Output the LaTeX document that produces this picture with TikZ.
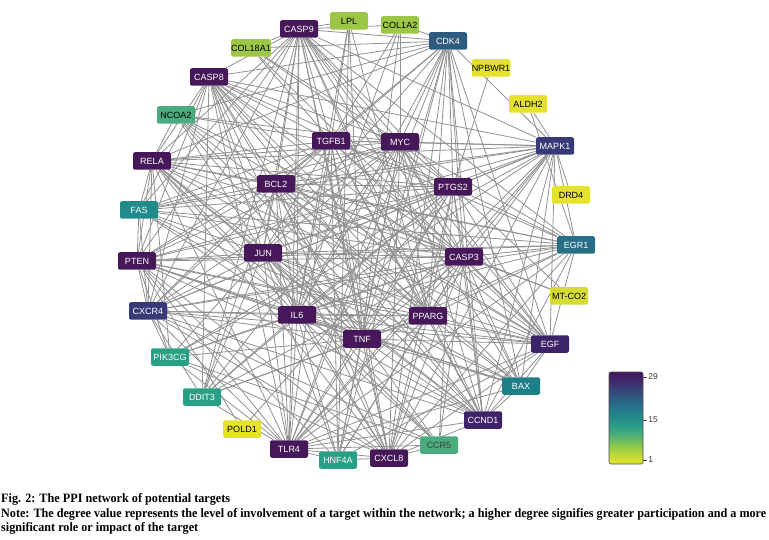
\documentclass[tikz,border=0pt]{standalone}
\usepackage{fontspec}
\setmainfont{Liberation Serif}
\newfontfamily\nodefont{Liberation Sans}
\usetikzlibrary{backgrounds}
\definecolor{hubA}{HTML}{46185A}
\definecolor{hubB}{HTML}{3F2368}
\definecolor{hubC}{HTML}{383A78}
\definecolor{cdkc}{HTML}{2D5B7E}
\definecolor{egrc}{HTML}{2A6D86}
\definecolor{fasc}{HTML}{218A8A}
\definecolor{baxc}{HTML}{1F7F87}
\definecolor{tealg}{HTML}{27A085}
\definecolor{greenc}{HTML}{4AAB7C}
\definecolor{limec}{HTML}{9CC646}
\definecolor{yellc}{HTML}{E5E22B}
\definecolor{mtc}{HTML}{D6DB34}
\definecolor{edgec}{HTML}{909090}
\definecolor{vA}{HTML}{E8E22A}
\definecolor{vB}{HTML}{BCD83B}
\definecolor{vC}{HTML}{8CC850}
\definecolor{vD}{HTML}{55B272}
\definecolor{vE}{HTML}{2FA085}
\definecolor{vF}{HTML}{238C8A}
\definecolor{vG}{HTML}{26778A}
\definecolor{vH}{HTML}{2D6084}
\definecolor{vI}{HTML}{364678}
\definecolor{vJ}{HTML}{40296A}
\definecolor{vK}{HTML}{45155A}
\pgfdeclareverticalshading{viridisbar}{100bp}{color(0bp)=(vA); color(25bp)=(vA); color(30bp)=(vB); color(35bp)=(vC); color(40bp)=(vD); color(45bp)=(vE); color(50bp)=(vF); color(55bp)=(vG); color(60bp)=(vH); color(65bp)=(vI); color(70bp)=(vJ); color(75bp)=(vK); color(100bp)=(vK)}
\tikzset{
  gene/.style={rectangle, rounded corners=2pt, minimum width=38pt, minimum height=17.5pt, inner sep=0pt, font=\nodefont\fontsize{9}{9}\selectfont},
  dk/.style={gene, fill=#1, text=white},
  lt/.style={gene, fill=#1, text=black},
  link/.style={draw=edgec, line width=0.8pt},
  captext/.style={anchor=base west, inner sep=0pt, font=\bfseries}
}
\begin{document}
\begin{tikzpicture}[x=1pt,y=-1pt]
\useasboundingbox (0,0) rectangle (769,540);
% outer ring
\node[dk=hubA] (CASP9) at (299,29) {CASP9};
\node[lt=limec] (LPL) at (349,21) {LPL};
\node[lt=limec] (COL1A2) at (400,25) {COL1A2};
\node[dk=cdkc] (CDK4) at (448,41) {CDK4};
\node[lt=yellc] (NPBWR1) at (491,68) {NPBWR1};
\node[lt=yellc] (ALDH2) at (528,104) {ALDH2};
\node[dk=hubC] (MAPK1) at (555,146) {MAPK1};
\node[lt=yellc] (DRD4) at (571,195) {DRD4};
\node[dk=egrc] (EGR1) at (576,245) {EGR1};
\node[lt=mtc] (MTCO2) at (569,296) {MT-CO2};
\node[dk=hubB] (EGF) at (550,344) {EGF};
\node[dk=baxc] (BAX) at (521,386) {BAX};
\node[dk=hubB] (CCND1) at (483,420) {CCND1};
\node[gene, fill=greenc, text=black!75] (CCR5) at (439,445) {CCR5};
\node[dk=hubA] (CXCL8) at (389,458) {CXCL8};
\node[dk=tealg] (HNF4A) at (338,460) {HNF4A};
\node[dk=hubA] (TLR4) at (289,449) {TLR4};
\node[lt=yellc] (POLD1) at (242,429) {POLD1};
\node[dk=tealg] (DDIT3) at (202,397) {DDIT3};
\node[dk=tealg] (PIK3CG) at (170,357) {PIK3CG};
\node[dk=hubC] (CXCR4) at (148,311) {CXCR4};
\node[dk=hubA] (PTEN) at (137,261) {PTEN};
\node[dk=fasc] (FAS) at (139,210) {FAS};
\node[dk=hubA] (RELA) at (152,161) {RELA};
\node[lt=greenc] (NCOA2) at (176,115) {NCOA2};
\node[dk=hubA] (CASP8) at (209,77) {CASP8};
\node[lt=limec] (COL18A1) at (251,48) {COL18A1};
% inner
\node[dk=hubA] (TGFB1) at (331,141) {TGFB1};
\node[dk=hubA] (MYC) at (400,142) {MYC};
\node[dk=hubA] (BCL2) at (276,184) {BCL2};
\node[dk=hubA] (PTGS2) at (453,187) {PTGS2};
\node[dk=hubA] (JUN) at (263,253) {JUN};
\node[dk=hubA] (CASP3) at (464,257) {CASP3};
\node[dk=hubA] (IL6) at (297,315) {IL6};
\node[dk=hubA] (PPARG) at (428,316) {PPARG};
\node[dk=hubA] (TNF) at (362,339) {TNF};
\begin{pgfonlayer}{background}
\foreach \a [count=\i] in {CASP9,CASP8,RELA,PTEN,CXCR4,TLR4,CXCL8,CCND1,EGF,MAPK1,TGFB1,MYC,BCL2,PTGS2,JUN,CASP3,IL6,PPARG,TNF}{
  \foreach \b [count=\j] in {CASP9,CASP8,RELA,PTEN,CXCR4,TLR4,CXCL8,CCND1,EGF,MAPK1,TGFB1,MYC,BCL2,PTGS2,JUN,CASP3,IL6,PPARG,TNF}{
    \ifnum\j>\i \draw[link] (\a) -- (\b); \fi
  }
}
\foreach \s/\ts in {
  CDK4/{CASP9,CASP8,RELA,COL1A2,COL18A1,MYC,TGFB1,BCL2,PTGS2,JUN,CASP3,IL6,PPARG,TNF,TLR4,CXCL8,CCND1,EGF,MAPK1,BAX,NCOA2,HNF4A},
  EGR1/{MAPK1,PTGS2,CASP3,TNF,IL6,JUN,MYC,TGFB1,BCL2,PTEN,FAS,RELA,EGF,CCND1,CXCL8,TLR4,PPARG,CASP9,CXCR4,ALDH2},
  FAS/{CASP8,CASP9,RELA,PTEN,BCL2,JUN,CASP3,TNF,IL6,TGFB1,MYC,PTGS2,MAPK1,CXCR4,BAX},
  BAX/{CASP9,CASP8,CASP3,BCL2,MYC,JUN,TNF,IL6,PTEN,MAPK1,EGF,CCND1,PPARG,TLR4},
  HNF4A/{PPARG,TNF,IL6,JUN,MYC,CASP3,TGFB1,PTEN,CXCL8,TLR4,LPL,EGF},
  DDIT3/{JUN,CASP3,BCL2,CASP9,CASP8,PPARG,TNF,IL6,MYC,PTGS2,TLR4,CXCR4},
  PIK3CG/{CXCR4,PTEN,TNF,IL6,CXCL8,CCR5,TLR4,MAPK1,PTGS2,JUN,RELA,CASP3},
  NCOA2/{PPARG,MYC,CASP3,TGFB1,JUN,EGF,CCND1,TNF,RELA},
  CCR5/{CXCL8,TNF,IL6,CXCR4,TLR4,JUN,RELA,PTGS2,CASP3},
  COL18A1/{CASP9,TGFB1,MYC,EGF,PTGS2},
  LPL/{PPARG,TNF,IL6,TGFB1,CASP9},
  COL1A2/{TGFB1,MYC,CASP9,IL6,TNF},
  NPBWR1/{PTGS2},
  ALDH2/{MAPK1},
  DRD4/{MAPK1},
  POLD1/{PTEN,PTGS2},
  MTCO2/{CASP3,BCL2,PTGS2}}{
  \foreach \t in \ts {\draw[link] (\s) -- (\t);}
}
\end{pgfonlayer}
% colour bar
\shade[shading=viridisbar, rounded corners=2pt, draw=black!70, line width=0.6pt] (609,372) rectangle (643,464);
\coordinate (t29) at (643,377);
\coordinate (t15) at (643,420);
\coordinate (t1) at (643,460);
\foreach \c/\v in {t29/29,t15/15,t1/1}{
  \draw[black!70, line width=0.6pt] (\c) -- ++(3.5,0) node[right=1.5pt, inner sep=0pt, font=\nodefont\fontsize{8.5}{8.5}\selectfont, text=black!80] {\v};
}
% caption
\node[captext] (c1) at (1,502) {\resizebox{229pt}{9pt}{Fig. 2: The PPI network of potential targets}};
\node[captext] (c2) at (1,517) {\resizebox{765pt}{9pt}{Note: The degree value represents the level of involvement of a target within the network; a higher degree signifies greater participation and a more}};
\node[captext] (c3) at (1,531) {\resizebox{197pt}{9pt}{significant role or impact of the target}};
\end{tikzpicture}
\end{document}
